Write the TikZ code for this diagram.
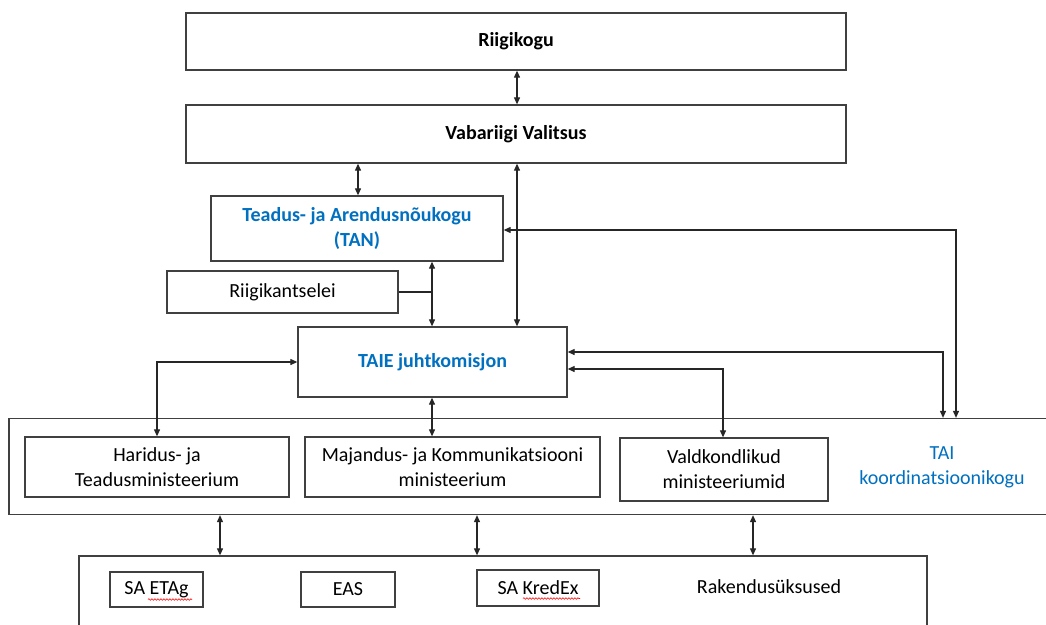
\documentclass[tikz,border=0pt]{standalone}
\usepackage{fontspec}
\setmainfont{Carlito}
\usetikzlibrary{arrows.meta,decorations.pathmorphing}
\definecolor{ublue}{RGB}{0,112,192}
\definecolor{edgegray}{RGB}{64,64,64}
\begin{document}
\begin{tikzpicture}[x=1pt,y=-1pt,
  box/.style={draw=edgegray, line width=1.3pt, inner sep=0pt, align=center, font=\fontsize{20}{25}\selectfont},
  lbl/.style={inner sep=0pt, align=center, font=\fontsize{20}{25}\selectfont},
  link/.style={line width=1.1pt, draw=black!85, {Triangle[length=7pt,width=6pt]}-{Triangle[length=7pt,width=6pt]}},
  plainline/.style={line width=1.1pt, draw=black!85},
  squiggle/.style={red, line width=0.6pt, decorate, decoration={snake, amplitude=0.8pt, segment length=3pt}}]
\clip (0,0) rectangle (1046,624);
\fill[white] (0,0) rectangle (1046,624);

% boxes
\node[box, minimum width=660pt, minimum height=57pt] (rk) at (516,41.5) {\bfseries Riigikogu};
\node[box, minimum width=660pt, minimum height=58pt] (vv) at (516,134) {\bfseries Vabariigi Valitsus};
\node[box, minimum width=292pt, minimum height=65pt, text=ublue] (tan) at (357,228.5) {\bfseries Teadus- ja Arendusnõukogu\\\bfseries (TAN)};
\node[box, minimum width=231pt, minimum height=42pt] (rkant) at (282.5,292) {Riigikantselei};
\node[box, minimum width=269pt, minimum height=70pt, text=ublue] (taie) at (432.5,362) {\bfseries TAIE juhtkomisjon};

\node[box, minimum width=1051pt, minimum height=96pt] (cont) at (534.5,466.5) {};
\node[box, minimum width=264pt, minimum height=60pt] (hm) at (157,467) {Haridus- ja\\Teadusministeerium};
\node[box, minimum width=295pt, minimum height=60pt] (mkm) at (452.5,467) {Majandus- ja Kommunikatsiooni\\ministeerium};
\node[box, minimum width=208pt, minimum height=63pt] (vm) at (724,469.5) {Valdkondlikud\\ministeeriumid};
\node[lbl, text=ublue] (tai) at (942,467) {TAI\\koordinatsioonikogu};

\node[box, minimum width=848pt, minimum height=84pt] (bot) at (503,598) {};
\node[box, minimum width=93pt, minimum height=35pt] (etag) at (156.5,589.5) {SA ETAg};
\node[box, minimum width=94pt, minimum height=35pt] (eas) at (348,589.5) {EAS};
\node[box, minimum width=122pt, minimum height=36pt] (kredex) at (538,588) {SA KredEx};
\node[lbl] (rak) at (769,587) {Rakendusüksused};

% spell-check squiggles
\draw[squiggle] (148,599.5) -- (192,599.5);
\draw[squiggle] (523,598.5) -- (580,598.5);

% connectors
\draw[link] (517,0 |- rk.south) -- (517,0 |- vv.north);
\draw[link] (358,0 |- vv.south) -- (358,0 |- tan.north);
\draw[link] (517,0 |- vv.south) -- (517,0 |- taie.north);
\draw[link] (432,0 |- tan.south) -- (432,0 |- taie.north);
\draw[plainline] (rkant.east) -- (432,0 |- rkant.east);
\draw[link] (0,230 -| tan.east) -- (956,230) -- (956,0 |- cont.north);
\draw[link] (0,352 -| taie.east) -- (943,352) -- (943,0 |- cont.north);
\draw[link] (0,369 -| taie.east) -- (723,369) -- (723,0 |- vm.north);
\draw[link] (0,362 -| taie.west) -- (157,362) -- (hm.north);
\draw[link] (432,0 |- taie.south) -- (432,0 |- mkm.north);
\draw[link] (220,0 |- cont.south) -- (220,0 |- bot.north);
\draw[link] (477,0 |- cont.south) -- (477,0 |- bot.north);
\draw[link] (753,0 |- cont.south) -- (753,0 |- bot.north);
\end{tikzpicture}
\end{document}
